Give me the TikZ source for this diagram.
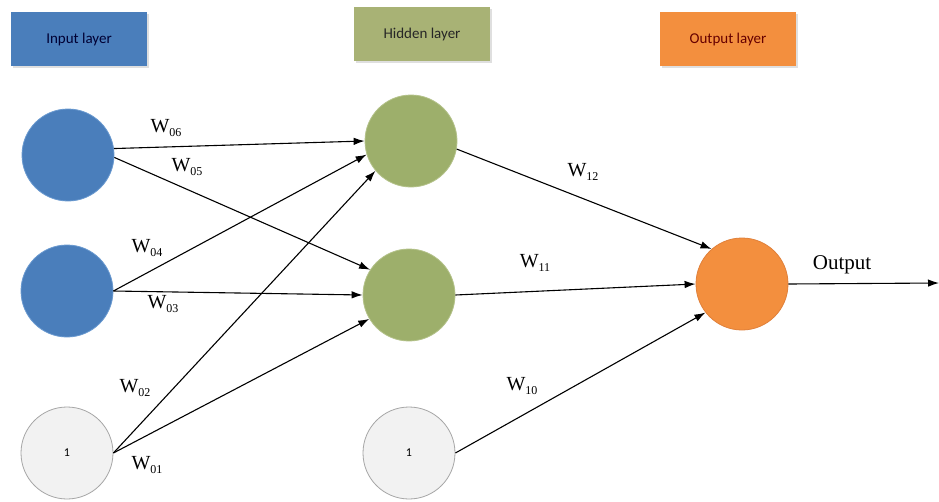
\documentclass[tikz,border=0pt]{standalone}
\usepackage{fontspec}
\setmainfont{Liberation Serif}
\newfontfamily\boxfont{Carlito}
\usetikzlibrary{arrows.meta,shadows}

\definecolor{inblue}{HTML}{4A7EBB}
\definecolor{inblueedge}{HTML}{6A9AD0}
\definecolor{hidgreen}{HTML}{9DAF6B}
\definecolor{hidedge}{HTML}{B4C28A}
\definecolor{hidbox}{HTML}{A8B275}
\definecolor{outorange}{HTML}{F38F3E}
\definecolor{outedge}{HTML}{E0803A}
\definecolor{biasfill}{HTML}{F2F2F2}
\definecolor{biasedge}{HTML}{A6A6A6}

\newcommand{\wlab}[1]{W\raisebox{-0.35ex}{\fontsize{12}{12}\selectfont #1}}

\tikzset{
  layerbox/.style={draw=none, minimum width=136pt, minimum height=54pt,
    font=\boxfont\fontsize{15}{18}\selectfont,
    drop shadow={shadow xshift=1.5pt, shadow yshift=-1.5pt, opacity=0.25}},
  neuron/.style={circle, minimum size=92pt, inner sep=0pt, line width=0.8pt},
  inneuron/.style={neuron, fill=inblue, draw=inblueedge},
  hidneuron/.style={neuron, fill=hidgreen, draw=hidedge},
  outneuron/.style={neuron, fill=outorange, draw=outedge},
  biasneuron/.style={neuron, fill=biasfill, draw=biasedge,
    font=\boxfont\fontsize{12}{12}\selectfont},
  wire/.style={draw=black, line width=1.1pt, -{Latex[length=11pt,width=7.5pt]}},
  weight/.style={font=\fontsize{20}{24}\selectfont, inner sep=0pt}
}

\begin{document}
\begin{tikzpicture}[x=1pt,y=-1pt]
  \useasboundingbox[fill=white] (0,0) rectangle (939,501);

  % layer headings
  \node[layerbox, fill=inblue, text=black!80!blue] (tin) at (79,39) {Input layer};
  \node[layerbox, fill=hidbox, text=black!85] (thid) at (422,34) {Hidden layer};
  \node[layerbox, fill=outorange, text=black!60!red] (tout) at (728,39) {Output layer};

  % neurons
  \node[inneuron] (in1) at (68,155) {};
  \node[inneuron] (in2) at (67,291) {};
  \node[biasneuron] (inb) at (67,453) {1};

  \node[hidneuron] (h1) at (411,141) {};
  \node[hidneuron] (h2) at (409,295) {};
  \node[biasneuron] (hb) at (409,453) {1};

  \node[outneuron] (o) at (742,284) {};
  \coordinate (end) at (939,283);

  % input -> hidden
  \draw[wire] (in1.8) -- (h1.180);
  \draw[wire] (in1.-3) -- (h2.147);
  \draw[wire] (in2.east) -- (h1.197);
  \draw[wire] (in2.east) -- (h2.180);
  \draw[wire] (inb.east) -- (h1.220);
  \draw[wire] (inb.east) -- (h2.211);

  % hidden -> output
  \draw[wire] (h1.-10) -- (o.131);
  \draw[wire] (h2.east) -- (o.180);
  \draw[wire] (hb.east) -- (o.218);
  \draw[wire] (o.east) -- (end);

  % weights
  \node[weight] (w06) at (166,128) {\wlab{06}};
  \node[weight] (w05) at (187,167) {\wlab{05}};
  \node[weight] (w04) at (147,248) {\wlab{04}};
  \node[weight] (w03) at (163,304) {\wlab{03}};
  \node[weight] (w02) at (135,388) {\wlab{02}};
  \node[weight] (w01) at (147,465) {\wlab{01}};
  \node[weight] (w12) at (583,172) {\wlab{12}};
  \node[weight] (w11) at (535,263) {\wlab{11}};
  \node[weight] (w10) at (522,386) {\wlab{10}};
  \node[font=\fontsize{21}{24}\selectfont, inner sep=0pt] (olab) at (842,265) {Output};
\end{tikzpicture}
\end{document}
